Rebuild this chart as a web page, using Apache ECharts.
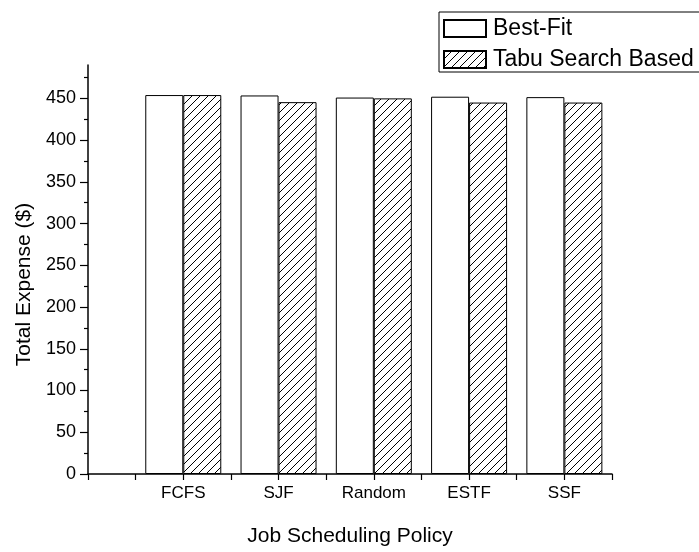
<!DOCTYPE html>
<html>
<head>
<meta charset="utf-8">
<script src="https://cdn.jsdelivr.net/npm/echarts@6/dist/echarts.min.js"></script>
<style>
  html, body { margin: 0; padding: 0; background: #fff; }
  #chart { width: 699px; height: 552px; }
</style>
</head>
<body>
<div id="chart"></div>
<script>
// categories sit at x = 1..5 on a 0..5.5 axis, like the original
const categories = ["FCFS", "SJF", "Random", "ESTF", "SSF"];
const bestFit = [454, 453.5, 451, 452, 451.5];
const tabuSearch = [454, 445.5, 450, 445, 445];
const yMajorTicks = [0, 50, 100, 150, 200, 250, 300, 350, 400, 450];
const yMinorTicks = [25, 75, 125, 175, 225, 275, 325, 375, 425, 475];
const xTicks = [0, 0.5, 1, 1.5, 2, 2.5, 3, 3.5, 4, 4.5, 5, 5.5];
const xLabelPos = [1, 2, 3, 4, 5];

const FONT = "Liberation Sans";

// diagonal hatch fill
function makeHatch() {
  const size = 8;
  const c = document.createElement("canvas");
  c.width = size;
  c.height = size;
  const ctx = c.getContext("2d");
  ctx.fillStyle = "#fff";
  ctx.fillRect(0, 0, size, size);
  ctx.strokeStyle = "#000";
  ctx.lineWidth = 1;
  ctx.beginPath();
  ctx.moveTo(0, size);
  ctx.lineTo(size, 0);
  ctx.moveTo(-size / 2, size / 2);
  ctx.lineTo(size / 2, -size / 2);
  ctx.moveTo(size / 2, size * 1.5);
  ctx.lineTo(size * 1.5, size / 2);
  ctx.stroke();
  return c;
}

const chart = echarts.init(document.getElementById("chart"));

const option = {
  animation: false,
  textStyle: { fontFamily: FONT, color: "#000" },
  grid: { left: 88, right: 87, top: 65, bottom: 62 },
  legend: {
    orient: "vertical",
    left: 439,
    top: 12,
    icon: "rect",
    itemWidth: 42,
    itemHeight: 17,
    itemGap: 8,
    padding: [5, 10, 1, 4],
    borderColor: "#000",
    borderWidth: 1,
    textStyle: {
      fontFamily: FONT,
      fontSize: 23,
      lineHeight: 22,
      color: "#000",
      padding: [0, 0, 0, 2],
    },
    data: ["Best-Fit", "Tabu Search Based"],
  },
  xAxis: {
    type: "value",
    min: 0,
    max: 5.5,
    name: "Job Scheduling Policy",
    nameLocation: "middle",
    nameGap: 52,
    nameTextStyle: { fontFamily: FONT, fontSize: 21, color: "#000" },
    axisLine: { lineStyle: { color: "#000", width: 1.5 } },
    axisTick: {
      show: true,
      length: 6,
      customValues: xTicks,
      lineStyle: { color: "#000", width: 1.2 },
    },
    axisLabel: {
      customValues: xLabelPos,
      fontFamily: FONT,
      fontSize: 17,
      color: "#000",
      margin: 11,
      formatter: (v) => categories[Math.round(v) - 1] || "",
    },
    splitLine: { show: false },
  },
  yAxis: [
    {
      type: "value",
      min: 0,
      max: 490,
      name: "Total Expense ($)",
      nameLocation: "middle",
      nameGap: 53,
      nameTextStyle: {
        fontFamily: FONT,
        fontSize: 21,
        color: "#000",
        padding: [0, 30, 0, 0],
      },
      axisLine: { show: true, lineStyle: { color: "#000", width: 1.5 } },
      axisTick: {
        show: true,
        length: 8,
        customValues: yMajorTicks,
        lineStyle: { color: "#000", width: 1.2 },
      },
      axisLabel: {
        customValues: yMajorTicks,
        fontFamily: FONT,
        fontSize: 18,
        color: "#000",
        margin: 12,
      },
      splitLine: { show: false },
    },
    {
      // minor ticks only
      type: "value",
      min: 0,
      max: 490,
      position: "left",
      axisLine: { show: false },
      axisTick: {
        show: true,
        length: 4,
        customValues: yMinorTicks,
        lineStyle: { color: "#000", width: 1.2 },
      },
      axisLabel: { show: false },
      splitLine: { show: false },
    },
  ],
  series: [
    {
      name: "Best-Fit",
      type: "bar",
      barWidth: 38,
      barGap: "0%",
      itemStyle: { color: "#fff", borderColor: "#000", borderWidth: 1 },
      data: bestFit.map((v, i) => [xLabelPos[i], v]),
    },
    {
      name: "Tabu Search Based",
      type: "bar",
      barWidth: 38,
      barGap: "0%",
      itemStyle: {
        color: { image: makeHatch(), repeat: "repeat" },
        borderColor: "#000",
        borderWidth: 1,
      },
      data: tabuSearch.map((v, i) => [xLabelPos[i], v]),
    },
  ],
};

chart.setOption(option);
</script>
</body>
</html>
